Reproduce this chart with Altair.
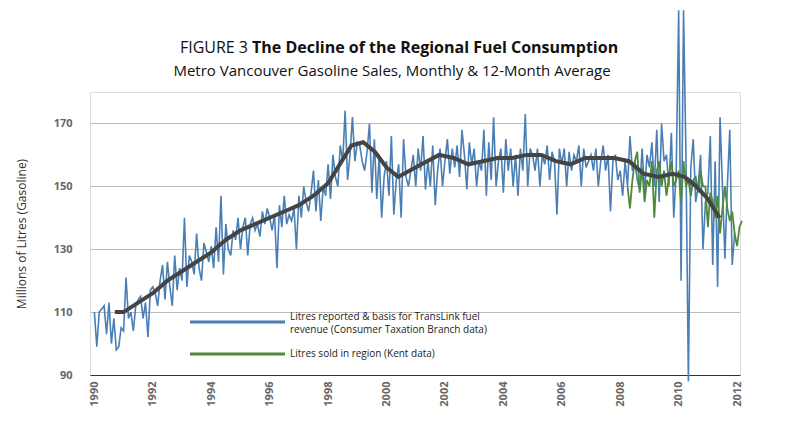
import altair as alt
import pandas as pd

blue = [
110,99,110,111,112,103,113,100,108,98,99,105,
104,121,108,110,104,112,114,115,108,113,102,117,
118,116,112,120,125,114,126,118,112,128,117,124,
120,140,118,128,126,122,135,124,120,132,129,126,
131,124,137,126,147,122,138,130,128,136,133,140,
130,137,140,128,138,140,136,138,134,142,138,143,
140,136,141,124,144,137,147,138,141,139,143,130,
147,140,150,145,142,148,155,142,152,139,150,147,
157,146,160,153,150,163,158,174,152,160,172,158,
164,163,158,155,161,170,148,165,146,160,140,153,
158,147,166,141,152,157,140,165,153,150,155,160,
150,162,155,166,149,158,150,163,144,155,162,150,
158,165,154,162,156,163,153,168,160,149,164,157,
162,150,158,155,168,147,164,152,172,150,158,162,
148,165,155,162,150,160,147,162,155,173,150,162,
160,155,162,150,160,157,163,152,161,158,141,162,
157,162,150,161,155,160,158,163,150,162,156,158,
160,155,162,150,158,163,155,160,142,158,160,152,
155,147,158,150,166,155,158,152,149,162,148,160,
156,164,150,168,145,170,158,160,150,167,140,155,
206,120,206,160,88,156,165,145,150,160,130,145,
148,166,125,158,118,172,150,127,150,168,125,135]
green = [
150,143,152,158,161,148,156,145,152,150,158,140,
155,158,150,155,147,153,158,150,152,155,145,158,
150,152,147,152,153,148,155,150,150,137,148,145,
140,147,135,143,150,143,139,142,135,131,137,139]
avg_t = [1990.7,1991.0,1991.5,1992.0,1992.5,1993.0,1993.5,1994.0,1994.5,1995.0,1995.5,1996.0,1996.5,1997.0,1997.5,1998.0,1998.4,1998.8,1999.2,1999.6,2000.0,2000.4,2000.8,2001.2,2001.8,2002.3,2002.8,2003.3,2003.8,2004.3,2004.8,2005.3,2005.8,2006.3,2006.8,2007.3,2007.8,2008.3,2008.8,2009.3,2009.8,2010.2,2010.6,2011.0,2011.4]
avg_v = [110,110,113,116,120,123,126,129,133,136,138,140,142,144,147,151,157,163,164,161,156,153,155,157,160,159,157,158,159,159,160,160,158,157,159,159,159,158,154,153,154,153,150,146,140]

years = list(range(1990, 2013, 2))
bdf = pd.DataFrame({"t": [1990 + i/12 for i in range(len(blue))], "v": blue})
gdf = pd.DataFrame({"t": [2008.25 + i/12 for i in range(len(green))], "v": green})
adf = pd.DataFrame({"t": avg_t, "v": avg_v})

x = alt.X("t:Q", scale=alt.Scale(domain=[1989.85, 2012.1], nice=False, zero=False),
          axis=alt.Axis(values=years, format="d", labelAngle=-90, labelFontWeight="bold",
                        labelColor="#666", labelFontSize=11, grid=False, ticks=False,
                        domainColor="#333", title=None, labelPadding=6))
y = alt.Y("v:Q", scale=alt.Scale(domain=[90, 180], nice=False, zero=False),
          axis=alt.Axis(values=[90, 110, 130, 150, 170], labelFontWeight="bold", labelColor="#666",
                        labelFontSize=11, gridColor="#bbb", domain=False, ticks=False,
                        title="Millions of Litres (Gasoline)", titleFontWeight="normal",
                        titleFontSize=12, titleColor="#333", titlePadding=25, labelPadding=18))

bl = alt.Chart(bdf).mark_line(color="#4a7fb5", strokeWidth=1.6, clip=False).encode(x=x, y=y)
gl = alt.Chart(gdf).mark_line(color="#4e8a3a", strokeWidth=1.8).encode(x="t:Q", y="v:Q")
al = alt.Chart(adf).mark_line(color="#444", strokeWidth=4).encode(x="t:Q", y="v:Q")

leg = pd.DataFrame({"k": [0]})
l1 = alt.Chart(leg).mark_rule(color="#4a7fb5", strokeWidth=3).encode(x=alt.value(100), x2=alt.value(195), y=alt.value(230))
l2 = alt.Chart(leg).mark_rule(color="#4e8a3a", strokeWidth=3).encode(x=alt.value(100), x2=alt.value(195), y=alt.value(262))
t1 = alt.Chart(leg).mark_text(align="left", fontSize=10, color="#222", lineBreak="\n", baseline="top", lineHeight=13).encode(
    x=alt.value(200), y=alt.value(220), text=alt.value("Litres reported & basis for TransLink fuel\nrevenue (Consumer Taxation Branch data)"))
t2 = alt.Chart(leg).mark_text(align="left", fontSize=10, color="#222").encode(
    x=alt.value(200), y=alt.value(262), text=alt.value("Litres sold in region (Kent data)"))
h1 = alt.Chart(leg).mark_text(align="right", fontSize=16, color="#111").encode(
    x=alt.value(158), y=alt.value(-44), text=alt.value("FIGURE 3"))
h2 = alt.Chart(leg).mark_text(align="left", fontSize=16, fontWeight="bold", color="#111").encode(
    x=alt.value(162), y=alt.value(-44), text=alt.value("The Decline of the Regional Fuel Consumption"))
h3 = alt.Chart(leg).mark_text(align="center", fontSize=15, color="#111").encode(
    x=alt.value(302), y=alt.value(-21), text=alt.value("Metro Vancouver Gasoline Sales, Monthly & 12-Month Average"))

chart = alt.layer(bl, gl, al, l1, l2, t1, t2, h1, h2, h3).properties(
    width=650, height=283, autosize=alt.AutoSizeParams(type="none"),
    padding={"left": 82, "top": 84, "right": 42, "bottom": 47}
).configure_view(stroke=None).configure(font="Open Sans")
chart.save("out.html", embed_options={"renderer": "svg", "actions": False})
